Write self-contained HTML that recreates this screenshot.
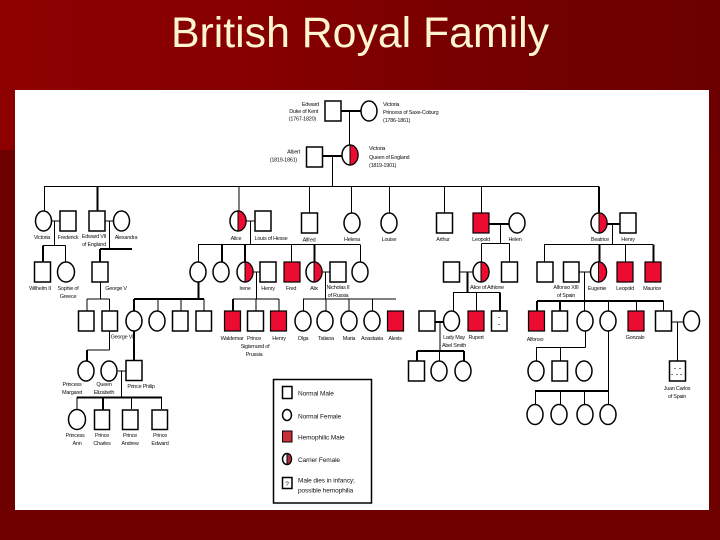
<!DOCTYPE html>
<html><head><meta charset="utf-8"><title>British Royal Family</title>
<style>
html,body{margin:0;padding:0;background:#6e0000}
svg{display:block}
.l{stroke:#000;stroke-width:1;fill:none}
.t{stroke:#000;stroke-width:2;fill:none}
.n{stroke:#000;stroke-width:1.5;fill:#fff}
.r{stroke:#000;stroke-width:1.2;fill:#ec0c32}
.h{stroke:#000;stroke-width:1;fill:#ec0c32}
.lab text{font-family:"Liberation Sans",sans-serif;font-size:5.5px;letter-spacing:-.25px;fill:#111}
.lab{filter:blur(.25px)}
.m{text-anchor:middle}
.e{text-anchor:end}
.lab text.g{font-size:6.5px;letter-spacing:-.1px}
</style></head><body>
<svg width="720" height="540" viewBox="0 0 720 540" xmlns="http://www.w3.org/2000/svg">
<defs>
<linearGradient id="bg" x1="0" y1="0" x2="1" y2="0"><stop offset="0" stop-color="#8c0000"/><stop offset=".33" stop-color="#880000"/><stop offset=".8" stop-color="#700000"/><stop offset="1" stop-color="#6c0000"/></linearGradient>
</defs>
<rect width="720" height="540" fill="#6e0000"/>
<rect width="720" height="150" fill="url(#bg)"/>
<text x="171" y="47" textLength="378" lengthAdjust="spacingAndGlyphs" style="font-family:'Liberation Sans',sans-serif;font-size:43px;fill:#fff5d2">British Royal Family</text>
<rect x="15" y="90" width="694" height="420" fill="#fff"/>

<!-- thin connectors -->
<path class="l" d="M349.5 111V146M332.5 156V186.5M44 186.5H599M44.5 186.5V211M239 186.5V211M309.5 186.5V213M351.5 186.5V213M389.5 186.5V213M444.5 186.5V213M481.5 186.5V213
M52 221H60M54.5 221V245.5M43 245.5H65.5M65.5 245.5V262M105 221H113M109.5 221V249M100.5 282V299M87 299H109.5M87 299V311M109.5 299V311
M246 221H255M250.5 221V244.5M198 244.5H360M198.5 244.5V262M291.5 244.5V262M360.5 244.5V262
M253 272H260M256.5 272V299M233 299H279M256 299V311M279 299V311
M322 272H330M325.5 272V299M303 299H396M303.5 299V311M326 299V311M349 299V311M372.5 299V311
M158 299V311M181 299V311M204 299V311
M500.5 224V243.5M481.5 243.5H509.5M481.5 243.5V262M509.5 243.5V262
M460 272H473M453 292.5H500M453.5 292.5V311M476.5 292.5V311
M440 322V351M439.5 351V361
M612.5 224V244.5M544 244.5H653M544.5 244.5V262M625.5 244.5V262
M579 272H590M584.5 272V301M584.5 301V311M608.5 301V311M636.5 301V311M663.5 301V311
M671 322H683M677.5 322V361
M585.5 331V347.5M536 347.5H585.5M536.5 347.5V361M560.5 347.5V361
M608.5 331V405M535.5 391V405M560.5 391V405M584.5 391V405
M109.5 331V350M87 350H109.5
M118 371H126M121.5 371V397M77 397V409M131.5 397V409M161.5 397V409"/>
<!-- thick connectors -->
<path class="t" d="M341 111H361M323 156H342M97.5 186.5V211M43 245.5V262M100 249H132M100 249V262
M222 244.5V262M245 244.5V262M314.5 244.5V262M198.5 282V299M134 299H204M134 299V361M233 299V311
M489 224H509M599 186.5V213M607 224H620M599.5 244.5V262M653.5 244.5V262
M467.5 272V292M500 292.5V311M435 322H443M417 351H464M417 351V361M464 351V361
M537 301H663.5M537 301V311M560 301V311M535 391H608
M87 350V361M77 397.5H162M103 397V410"/>

<!-- Generation 1 -->
<rect class="n" x="325" y="101" width="16" height="20"/><ellipse class="n" cx="369" cy="111" rx="8" ry="10"/>
<rect class="n" x="306.5" y="147" width="16" height="20"/>
<ellipse class="n" cx="350" cy="155" rx="8" ry="10"/><path class="h" d="M350 145A8 10 0 0 1 350 165Z"/>

<!-- Generation 2 -->
<ellipse class="n" cx="43.5" cy="221" rx="8" ry="10"/><rect class="n" x="60" y="211" width="16" height="20"/>
<rect class="n" x="89" y="211" width="16" height="20"/><ellipse class="n" cx="121.5" cy="221" rx="8" ry="10"/>
<ellipse class="n" cx="238" cy="221" rx="8" ry="10"/><path class="h" d="M238 211A8 10 0 0 1 238 231Z"/>
<rect class="n" x="255" y="211" width="16" height="20"/>
<rect class="n" x="301.5" y="213" width="16" height="20"/>
<ellipse class="n" cx="352" cy="223" rx="8" ry="10"/>
<ellipse class="n" cx="389" cy="223" rx="8" ry="10"/>
<rect class="n" x="436.5" y="213" width="16" height="20"/>
<rect class="r" x="473" y="213" width="16" height="20"/>
<ellipse class="n" cx="517" cy="223" rx="8" ry="10"/>
<ellipse class="n" cx="599" cy="223" rx="8" ry="10"/><path class="h" d="M599 213A8 10 0 0 1 599 233Z"/>
<rect class="n" x="620" y="213" width="16" height="20"/>

<!-- Generation 3 -->
<rect class="n" x="34.5" y="262" width="16" height="20"/><ellipse class="n" cx="66" cy="272" rx="8.5" ry="10"/>
<rect class="n" x="92" y="262" width="16" height="20"/>
<ellipse class="n" cx="198" cy="272" rx="8" ry="10"/><ellipse class="n" cx="221" cy="272" rx="8" ry="10"/>
<ellipse class="n" cx="245" cy="272" rx="8" ry="10"/><path class="h" d="M245 262A8 10 0 0 1 245 282Z"/>
<rect class="n" x="260" y="262" width="16" height="20"/>
<rect class="r" x="284" y="262" width="16" height="20"/>
<ellipse class="n" cx="314" cy="272" rx="8" ry="10"/><path class="h" d="M314 262A8 10 0 0 1 314 282Z"/>
<rect class="n" x="330" y="262" width="16" height="20"/>
<ellipse class="n" cx="360" cy="272" rx="8" ry="10"/>
<rect class="n" x="443.5" y="262" width="16" height="20"/>
<ellipse class="n" cx="481" cy="272" rx="8" ry="10"/><path class="h" d="M481 262A8 10 0 0 1 481 282Z"/>
<rect class="n" x="501.5" y="262" width="16" height="20"/>
<rect class="n" x="537" y="262" width="16" height="20"/><rect class="n" x="563.5" y="262" width="15.5" height="20"/>
<ellipse class="n" cx="598.5" cy="272" rx="8" ry="10"/><path class="h" d="M598.5 262A8 10 0 0 1 598.5 282Z"/>
<rect class="r" x="617" y="262" width="16" height="20"/><rect class="r" x="645" y="262" width="16" height="20"/>

<!-- Generation 4 -->
<rect class="n" x="78.5" y="311" width="15.5" height="20"/><rect class="n" x="102" y="311" width="15.5" height="20"/>
<ellipse class="n" cx="134" cy="321" rx="8" ry="10"/><ellipse class="n" cx="157" cy="321" rx="8" ry="10"/>
<rect class="n" x="172.5" y="311" width="15.5" height="20"/><rect class="n" x="196" y="311" width="15.5" height="20"/>
<rect class="r" x="224.5" y="311" width="16" height="20"/><rect class="n" x="247.5" y="311" width="16" height="20"/><rect class="r" x="270.5" y="311" width="16" height="20"/>
<ellipse class="n" cx="303" cy="321" rx="8" ry="10"/><ellipse class="n" cx="325" cy="321" rx="8" ry="10"/><ellipse class="n" cx="349" cy="321" rx="8" ry="10"/><ellipse class="n" cx="372" cy="321" rx="8" ry="10"/>
<rect class="r" x="387.5" y="311" width="16" height="20"/>
<rect class="n" x="419" y="311" width="16" height="20"/><ellipse class="n" cx="451.5" cy="321" rx="8" ry="10"/>
<rect class="r" x="468" y="311" width="16" height="20"/>
<rect class="n" x="491.5" y="311" width="15.5" height="20"/><path d="M499 317v1M499 324v1" stroke="#000" stroke-width="1"/>
<rect class="r" x="528.5" y="311" width="16" height="20"/><rect class="n" x="552" y="311" width="15.5" height="20"/>
<ellipse class="n" cx="585" cy="321" rx="8" ry="10"/><ellipse class="n" cx="608" cy="321" rx="8" ry="10"/>
<rect class="r" x="628" y="311" width="16" height="20"/><rect class="n" x="655.5" y="311" width="16" height="20"/>
<ellipse class="n" cx="691.5" cy="321" rx="8" ry="10"/>

<!-- Generation 5 -->
<ellipse class="n" cx="86" cy="371" rx="8" ry="10"/><ellipse class="n" cx="109" cy="371" rx="8" ry="10"/>
<rect class="n" x="126" y="360.5" width="16" height="20"/>
<rect class="n" x="408.5" y="361" width="16" height="20"/><ellipse class="n" cx="439" cy="371" rx="8" ry="10"/><ellipse class="n" cx="463" cy="371" rx="8" ry="10"/>
<ellipse class="n" cx="536" cy="371" rx="8" ry="10"/><rect class="n" x="552" y="361" width="15.5" height="20"/><ellipse class="n" cx="584" cy="371" rx="8" ry="10"/>
<rect class="n" x="669.5" y="361" width="16" height="20"/><path d="M675 368v1M680 368v1M672 374v1M677 374v1M681 374v1" stroke="#000" stroke-width="1"/>
<ellipse class="n" cx="77" cy="419.5" rx="8.5" ry="10"/>
<rect class="n" x="94.5" y="410" width="15" height="19.5"/><rect class="n" x="122.5" y="410" width="15.5" height="19.5"/><rect class="n" x="152" y="410" width="15.5" height="19.5"/>
<ellipse class="n" cx="535" cy="414.5" rx="8" ry="10"/><ellipse class="n" cx="559" cy="414.5" rx="8" ry="10"/><ellipse class="n" cx="585" cy="414.5" rx="8" ry="10"/><ellipse class="n" cx="608" cy="414.5" rx="8" ry="10"/>

<!-- Legend -->
<rect x="273.5" y="379.5" width="98" height="123.5" fill="#fff" stroke="#000" stroke-width="1.5"/>
<rect class="n" x="282.5" y="386.5" width="9.5" height="12"/>
<ellipse class="n" cx="287" cy="415" rx="4.5" ry="5.5"/>
<rect x="282.5" y="431" width="9.5" height="11" fill="#c9303a" stroke="#000" stroke-width="1"/>
<ellipse class="n" cx="287" cy="459" rx="4.5" ry="5.5"/><path d="M287 453.5A4.5 5.5 0 0 1 287 464.5Z" fill="#a8303a" stroke="#000" stroke-width="1"/>
<rect class="n" x="282.5" y="477.5" width="9.5" height="11"/>

<!-- Labels -->
<g class="lab">
<text class="g m" x="287" y="486">?</text>
<text class="g" x="298" y="395.5">Normal Male</text>
<text class="g" x="298" y="418.5">Normal Female</text>
<text class="g" x="298" y="439.5">Hemophilic Male</text>
<text class="g" x="298" y="462">Carrier Female</text>
<text class="g" x="298" y="482.5">Male dies in infancy;</text>
<text class="g" x="298" y="492.5">possible hemophilia</text>
<text class="e" x="319" y="106">Edward</text><text class="e" x="318" y="113">Duke of Kent</text><text class="e" x="316" y="120.5">(1767-1820)</text>
<text x="383" y="106">Victoria</text><text x="383" y="114">Princess of Saxe-Coburg</text><text x="383" y="122">(1786-1861)</text>
<text class="e" x="300" y="153.5">Albert</text><text class="e" x="297" y="161.5">(1819-1861)</text>
<text x="369" y="150">Victoria</text><text x="369" y="159">Queen of England</text><text x="369" y="167">(1819-1901)</text>
<text class="m" x="42" y="239">Victoria</text><text class="m" x="68" y="239">Frederick</text><text class="m" x="94" y="238">Edward VII</text><text class="m" x="94" y="246">of England</text><text class="m" x="126" y="239">Alexandra</text>
<text class="m" x="236" y="240">Alice</text><text class="m" x="271" y="240">Louis of Hesse</text><text class="m" x="309" y="241.5">Alfred</text><text class="m" x="352" y="241">Helena</text><text class="m" x="389" y="241">Louise</text><text class="m" x="443" y="241">Arthur</text><text class="m" x="481" y="241">Leopold</text><text class="m" x="515" y="241">Helen</text><text class="m" x="600" y="241">Beatrice</text><text class="m" x="628" y="241">Henry</text>
<text class="m" x="40" y="290">Wilhelm II</text><text class="m" x="68" y="290">Sophie of</text><text class="m" x="68" y="298">Greece</text><text class="m" x="116" y="290">George V</text>
<text class="m" x="245" y="290">Irene</text><text class="m" x="268" y="290">Henry</text><text class="m" x="291" y="290">Fred</text><text class="m" x="314" y="290">Alix</text><text class="m" x="338" y="289">Nicholas II</text><text class="m" x="338" y="297">of Russia</text>
<text class="m" x="487" y="289">Alice of Athlone</text><text class="m" x="566" y="289">Alfonso XIII</text><text class="m" x="566" y="297">of Spain</text><text class="m" x="597" y="290">Eugenie</text><text class="m" x="625" y="290">Leopold</text><text class="m" x="652" y="290">Maurice</text>
<text class="m" x="122" y="338.5">George VI</text><text class="m" x="232" y="340">Waldemar</text><text class="m" x="254" y="340">Prince</text><text class="m" x="255" y="348">Sigismund of</text><text class="m" x="254" y="356">Prussia</text><text class="m" x="279" y="340">Henry</text>
<text class="m" x="303" y="340">Olga</text><text class="m" x="326" y="340">Tatiana</text><text class="m" x="349" y="340">Maria</text><text class="m" x="372" y="340">Anastasia</text><text class="m" x="395" y="340">Alexis</text>
<text class="m" x="454" y="339">Lady May</text><text class="m" x="454" y="347">Abel Smith</text><text class="m" x="476" y="339">Rupert</text><text class="m" x="535" y="341">Alfonso</text><text class="m" x="635" y="339">Gonzalo</text>
<text class="m" x="677" y="390">Juan Carlos</text><text class="m" x="677" y="398">of Spain</text>
<text class="m" x="72" y="386">Princess</text><text class="m" x="72" y="394">Margaret</text><text class="m" x="104" y="386">Queen</text><text class="m" x="104" y="394">Elizabeth</text><text class="m" x="141" y="388">Prince Philip</text>
<text class="m" x="75" y="437">Princess</text><text class="m" x="77" y="445">Ann</text><text class="m" x="102" y="437">Prince</text><text class="m" x="102" y="445">Charles</text><text class="m" x="130" y="437">Prince</text><text class="m" x="130" y="445">Andrew</text><text class="m" x="160" y="437">Prince</text><text class="m" x="160" y="445">Edward</text>
</g>
</svg>
</body></html>
